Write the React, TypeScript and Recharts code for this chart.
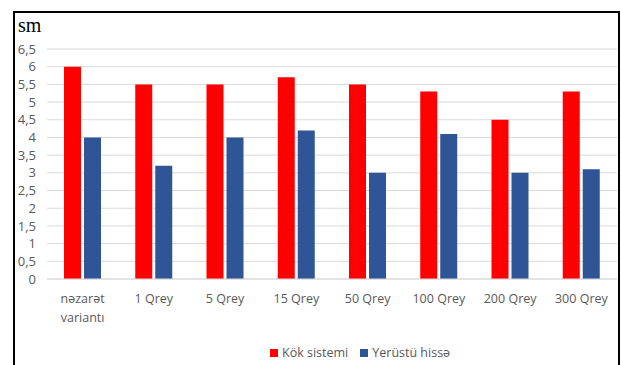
import React from 'react';
import { BarChart, Bar, XAxis, YAxis, CartesianGrid, Legend } from 'recharts';

const categories = [
  'nəzarət variantı',
  '1 Qrey',
  '5 Qrey',
  '15 Qrey',
  '50 Qrey',
  '100 Qrey',
  '200 Qrey',
  '300 Qrey',
];
const kokSistemi = [6, 5.5, 5.5, 5.7, 5.5, 5.3, 4.5, 5.3];
const yerustuHisse = [4, 3.2, 4, 4.2, 3, 4.1, 3, 3.1];
const yTicks = [0, 0.5, 1, 1.5, 2, 2.5, 3, 3.5, 4, 4.5, 5, 5.5, 6, 6.5];

const data = categories.map((name, i) => ({
  name,
  kok: kokSistemi[i],
  yer: yerustuHisse[i],
}));

const FONT = '"Open Sans", sans-serif';
const GRAY = '#595959';

const CategoryTick = (props: any) => {
  const { x, y, payload } = props;
  const label: string = payload.value;
  const lines = label.length > 10 ? label.split(' ') : [label];
  return (
    <text x={x} y={y} textAnchor="middle" fill={GRAY} fontSize={12.5} fontFamily={FONT}>
      {lines.map((l, i) => (
        <tspan key={i} x={x} dy={i === 0 ? 16 : 19}>
          {l}
        </tspan>
      ))}
    </text>
  );
};

const LegendContent = () => (
  <div style={{ display: 'flex', alignItems: 'center', fontFamily: FONT, fontSize: 12.5, color: GRAY, whiteSpace: 'nowrap' }}>
    <span style={{ width: 8, height: 8, background: '#FF0000', display: 'inline-block', marginRight: 4 }} />
    <span style={{ marginRight: 12 }}>Kök sistemi</span>
    <span style={{ width: 8, height: 8, background: '#2F5597', display: 'inline-block', marginRight: 4 }} />
    <span>Yerüstü hissə</span>
  </div>
);

export default function App() {
  return (
    <div
      style={{
        position: 'absolute',
        left: 13,
        top: 11,
        width: 607,
        height: 360,
        border: '2px solid #000',
        boxSizing: 'border-box',
        background: '#fff',
      }}
    >
      <div
        style={{
          position: 'absolute',
          left: 3,
          top: 1,
          fontFamily: '"Liberation Serif", "Times New Roman", serif',
          fontSize: 20,
          color: '#000',
        }}
      >
        sm
      </div>
      <BarChart
        width={603}
        height={352}
        data={data}
        margin={{ top: 36, right: 1, bottom: 0, left: 0 }}
        barSize={17}
        barGap={3}
      >
        <CartesianGrid vertical={false} stroke="#d9d9d9" />
        <XAxis
          dataKey="name"
          axisLine={{ stroke: '#d9d9d9' }}
          tickLine={false}
          height={70}
          interval={0}
          tick={<CategoryTick />}
        />
        <YAxis
          width={32}
          domain={[0, 6.5]}
          ticks={yTicks}
          interval={0}
          axisLine={false}
          tickLine={false}
          tickMargin={5}
          tick={{ fill: GRAY, fontSize: 13, fontFamily: FONT }}
          tickFormatter={(v: number) => String(v).replace('.', ',')}
        />
        <Legend
          content={<LegendContent />}
          wrapperStyle={{ left: 255, top: 331, width: 'auto', height: 16 }}
        />
        <Bar dataKey="kok" name="Kök sistemi" fill="#FF0000" isAnimationActive={false} />
        <Bar dataKey="yer" name="Yerüstü hissə" fill="#2F5597" isAnimationActive={false} />
      </BarChart>
    </div>
  );
}
